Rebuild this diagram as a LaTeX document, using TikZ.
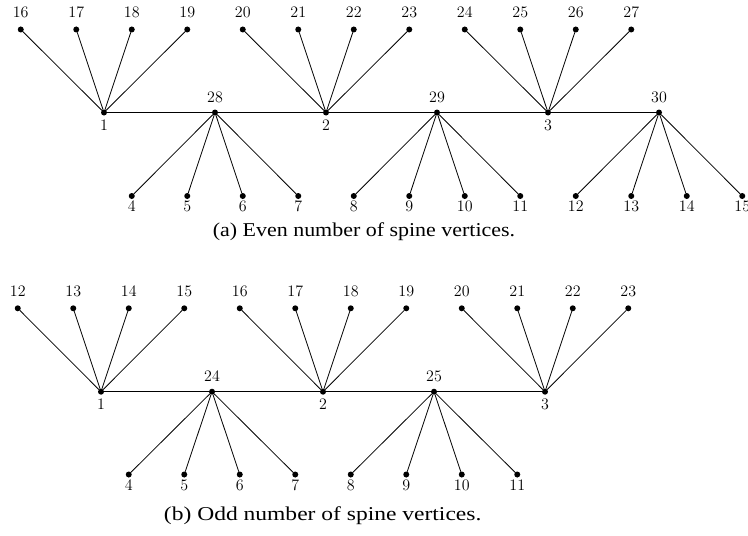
\documentclass[tikz,border=0pt]{standalone}
\usepackage{fontspec}
\newfontfamily\capfont{Liberation Serif}
\begin{document}
\begin{tikzpicture}[x=0.75pt,y=-0.75pt,line width=0.6pt,
  vtx/.style={circle,fill,inner sep=0pt,minimum size=4.5pt,outer sep=0pt},
  lab/.style={font=\fontsize{12}{14}\selectfont,inner sep=0pt},
  leafa/.style={lab,label distance=6.35pt},
  leafb/.style={lab,label distance=1.15pt},
  huba/.style={lab,label distance=5.05pt},
  hubb/.style={lab,label distance=2.95pt},
  capt/.style={anchor=base,inner sep=0pt}]
\useasboundingbox (0,0) rectangle (748,535);
% ---------- (a) ----------
\foreach \n/\x in {1/104,2/326,3/548}
  \node[vtx,label={[hubb]below:\n}] (t\n) at (\x,112.5) {};
\foreach \n/\x in {28/215,29/437,30/659}
  \node[vtx,label={[huba]above:\n}] (t\n) at (\x,112.5) {};
\draw (t1) -- (t28) -- (t2) -- (t29) -- (t3) -- (t30);
\foreach \h/\a/\hx in {1/16/104,2/20/326,3/24/548}
  \foreach \k/\dx in {0/-83.25,1/-27.75,2/27.75,3/83.25}{
    \pgfmathtruncatemacro\m{\a+\k}
    \pgfmathsetmacro\lx{\hx+\dx}
    \node[vtx,label={[leafa]above:\m}] (t\m) at (\lx,29.5) {};
    \draw (t\h) -- (t\m);
  }
\foreach \h/\a/\hx in {28/4/215,29/8/437,30/12/659}
  \foreach \k/\dx in {0/-83.25,1/-27.75,2/27.75,3/83.25}{
    \pgfmathtruncatemacro\m{\a+\k}
    \pgfmathsetmacro\lx{\hx+\dx}
    \node[vtx,label={[leafb]below:\m}] (t\m) at (\lx,196) {};
    \draw (t\h) -- (t\m);
  }
\node[capt] (capa) at (364,236.5) {\capfont\fontsize{14.7}{17}\selectfont\scalebox{1.12}[1]{(a) Even number of spine vertices.}};
% ---------- (b) ----------
\foreach \n/\x in {1/101,2/323,3/545}
  \node[vtx,label={[hubb]below:\n}] (b\n) at (\x,391.7) {};
\foreach \n/\x in {24/212,25/434}
  \node[vtx,label={[huba]above:\n}] (b\n) at (\x,391.7) {};
\draw (b1) -- (b24) -- (b2) -- (b25) -- (b3);
\foreach \h/\a/\hx in {1/12/101,2/16/323,3/20/545}
  \foreach \k/\dx in {0/-83.25,1/-27.75,2/27.75,3/83.25}{
    \pgfmathtruncatemacro\m{\a+\k}
    \pgfmathsetmacro\lx{\hx+\dx}
    \node[vtx,label={[leafa]above:\m}] (b\m) at (\lx,308.3) {};
    \draw (b\h) -- (b\m);
  }
\foreach \h/\a/\hx in {24/4/212,25/8/434}
  \foreach \k/\dx in {0/-83.25,1/-27.75,2/27.75,3/83.25}{
    \pgfmathtruncatemacro\m{\a+\k}
    \pgfmathsetmacro\lx{\hx+\dx}
    \node[vtx,label={[leafb]below:\m}] (b\m) at (\lx,474.5) {};
    \draw (b\h) -- (b\m);
  }
\node[capt] (capb) at (322.7,520.5) {\capfont\fontsize{14.7}{17}\selectfont\scalebox{1.2}[1]{(b) Odd number of spine vertices.}};
\end{tikzpicture}
\end{document}
